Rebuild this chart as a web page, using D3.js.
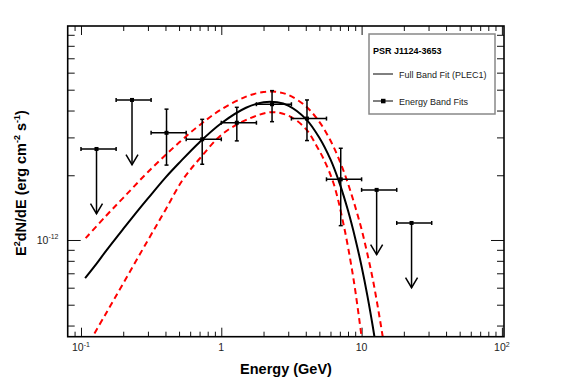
<!DOCTYPE html>
<html>
<head>
<meta charset="utf-8">
<script src="https://cdn.jsdelivr.net/npm/d3@7"></script>
<style>
  html, body { margin: 0; padding: 0; background: #fff; }
  svg { display: block; font-family: 'Liberation Sans', Arial, sans-serif; }
</style>
</head>
<body>
<script>
// band points (GeV, erg cm^-2 s^-1)
const energy = [0.129, 0.231, 0.407, 0.731, 1.29, 2.30, 4.08, 7.10, 12.8, 22.7];
const eLow = [0.1, 0.178, 0.316, 0.562, 1.0, 1.78, 3.16, 5.62, 10, 17.8];
const eHigh = [0.178, 0.316, 0.562, 1.0, 1.78, 3.16, 5.62, 10, 17.8, 31.6];
const flux = [2.65e-12, 4.48e-12, 3.15e-12, 2.94e-12, 3.51e-12, 4.28e-12, 3.67e-12, 1.915e-12, 1.71e-12, 1.20e-12];
const fluxHi = [null, null, 4.06e-12, 3.64e-12, 4.14e-12, 4.95e-12, 4.48e-12, 2.67e-12, null, null];
const fluxLo = [null, null, 2.23e-12, 2.25e-12, 2.89e-12, 3.55e-12, 2.90e-12, 1.166e-12, null, null];
const upperLimit = [true, true, false, false, false, false, false, false, true, true];

// full band fit (PLEC1)
const fitE = [0.107, 0.13, 0.15, 0.2, 0.25, 0.3, 0.4, 0.5, 0.7, 1, 1.5, 2, 2.5, 3, 4, 5, 6, 7, 8, 9, 10, 11, 12, 13];
const fitFlux = [6.64e-13, 7.8e-13, 8.85e-13, 1.125e-12, 1.35e-12, 1.56e-12, 1.95e-12, 2.28e-12, 2.85e-12, 3.49e-12, 4.12e-12, 4.37e-12, 4.37e-12, 4.22e-12, 3.66e-12, 2.99e-12, 2.37e-12, 1.82e-12, 1.37e-12, 1.02e-12, 7.53e-13, 5.50e-13, 3.98e-13, 2.86e-13];

// uncertainty band (red dashed)
const bandHiE = [0.108, 0.15, 0.2, 0.3, 0.5, 0.7, 1, 1.5, 2, 2.5, 3, 4, 5, 6, 7, 8, 9, 10, 11, 12, 13, 14, 15];
const bandHiFlux = [1.02e-12, 1.29e-12, 1.57e-12, 2.07e-12, 2.84e-12, 3.42e-12, 4.05e-12, 4.64e-12, 4.88e-12, 4.88e-12, 4.73e-12, 4.19e-12, 3.54e-12, 2.90e-12, 2.32e-12, 1.83e-12, 1.43e-12, 1.12e-12, 8.6e-13, 6.6e-13, 4.95e-13, 3.70e-13, 2.78e-13];
const bandLoE = [0.115, 0.15, 0.2, 0.3, 0.4, 0.531, 0.705, 1.03, 1.6, 2.3, 3.1, 4.06, 4.8, 5.33, 6.3, 7.4, 8.7, 10, 10.5];
const bandLoFlux = [3.35e-13, 4.53e-13, 6.28e-13, 9.98e-13, 1.38e-12, 1.905e-12, 2.40e-12, 3.13e-12, 3.68e-12, 3.93e-12, 3.75e-12, 3.25e-12, 2.72e-12, 2.40e-12, 1.84e-12, 1.20e-12, 6.76e-13, 3.55e-13, 2.82e-13];

// tick labels
const xTickLabels = [{v: 0.1, t: '10', s: '-1'}, {v: 1, t: '1', s: ''}, {v: 10, t: '10', s: ''}, {v: 100, t: '10', s: '2'}];
const yTickLabels = [{v: 1e-12, t: '10', s: '-12'}];
const legendTitle = 'PSR J1124-3653';
const legendItems = ['Full Band Fit (PLEC1)', 'Energy Band Fits'];

const w = 567;
const h = 384;
const pLeft = 67.7, pRight = 504, pTop = 26, pBottom = 336.7;
const arrowFactor = 0.5;

const xScale = d3.scaleLog().domain([0.0804, 103.5]).range([pLeft, pRight]);
const yScale = d3.scaleLog().domain([3.55e-13, 9.89e-12]).range([pBottom, pTop]);

const svg = d3.select('body').append('svg').attr('width', w).attr('height', h);

// tick positions
const xMinor = [], yMinor = [];
[0.01, 0.1, 1, 10].forEach(d => {
  for (let k = 2; k <= 9; k++) {
    const v = k * d;
    if (v >= 0.0804 && v <= 103.5) xMinor.push(v);
  }
});
[1e-13, 1e-12].forEach(d => {
  for (let k = 2; k <= 9; k++) {
    const v = k * d;
    if (v >= 3.55e-13 && v <= 9.89e-12) yMinor.push(v);
  }
});
const xMajor = [0.1, 1, 10, 100];
const yMajor = [1e-12];

function tickAxis(axis, translate) {
  const g = svg.append('g').attr('transform', translate).call(axis);
  g.select('.domain').remove();
  g.selectAll('.tick line').attr('stroke', '#111').attr('stroke-width', 1);
  return g;
}
tickAxis(d3.axisBottom(xScale).tickValues(xMinor).tickSize(-5).tickFormat(''), `translate(0,${pBottom})`);
tickAxis(d3.axisBottom(xScale).tickValues(xMajor).tickSize(-9).tickFormat(''), `translate(0,${pBottom})`);
tickAxis(d3.axisTop(xScale).tickValues(xMinor).tickSize(-5).tickFormat(''), `translate(0,${pTop})`);
tickAxis(d3.axisTop(xScale).tickValues(xMajor).tickSize(-9).tickFormat(''), `translate(0,${pTop})`);
tickAxis(d3.axisLeft(yScale).tickValues(yMinor).tickSize(-7).tickFormat(''), `translate(${pLeft},0)`);
tickAxis(d3.axisLeft(yScale).tickValues(yMajor).tickSize(-13).tickFormat(''), `translate(${pLeft},0)`);
tickAxis(d3.axisRight(yScale).tickValues(yMinor).tickSize(-7).tickFormat(''), `translate(${pRight},0)`);
tickAxis(d3.axisRight(yScale).tickValues(yMajor).tickSize(-13).tickFormat(''), `translate(${pRight},0)`);

// tick labels with superscripts
function supText(sel, t, s) {
  sel.append('tspan').text(t);
  if (s) sel.append('tspan').attr('font-size', 7).attr('dy', -4.5).text(s);
}
xTickLabels.forEach(d => {
  const txt = svg.append('text')
    .attr('x', xScale(d.v)).attr('y', 351)
    .attr('text-anchor', 'middle')
    .attr('font-size', 10.5).attr('fill', '#222');
  supText(txt, d.t, d.s);
});
yTickLabels.forEach(d => {
  const txt = svg.append('text')
    .attr('x', 58.5).attr('y', yScale(d.v) + 4)
    .attr('text-anchor', 'end')
    .attr('font-size', 10.5).attr('fill', '#222');
  supText(txt, d.t, d.s);
});

// axis titles
svg.append('text')
  .attr('x', 286).attr('y', 374)
  .attr('text-anchor', 'middle')
  .attr('font-size', 14.5).attr('font-weight', 'bold')
  .text('Energy (GeV)');

const ylab = svg.append('text')
  .attr('transform', 'translate(26,183) rotate(-90)')
  .attr('text-anchor', 'middle')
  .attr('font-size', 14.5).attr('font-weight', 'bold');
ylab.append('tspan').text('E');
ylab.append('tspan').attr('font-size', 9).attr('dy', -6).text('2');
ylab.append('tspan').attr('dy', 6).text('dN/dE (erg cm');
ylab.append('tspan').attr('font-size', 9).attr('dy', -6).text('-2');
ylab.append('tspan').attr('dy', 6).text(' s');
ylab.append('tspan').attr('font-size', 9).attr('dy', -6).text('-1');
ylab.append('tspan').attr('dy', 6).text(')');

// curves
svg.append('clipPath').attr('id', 'plot-clip')
  .append('rect').attr('x', pLeft).attr('y', pTop).attr('width', pRight - pLeft).attr('height', pBottom - pTop);

const line = d3.line()
  .x(d => xScale(d[0]))
  .y(d => yScale(d[1]))
  .curve(d3.curveCatmullRom.alpha(0.5));

const curves = svg.append('g').attr('clip-path', 'url(#plot-clip)');
curves.append('path')
  .datum(bandHiE.map((e, i) => [e, bandHiFlux[i]]))
  .attr('d', line).attr('fill', 'none')
  .attr('stroke', '#f00').attr('stroke-width', 2).attr('stroke-dasharray', '6,4');
curves.append('path')
  .datum(bandLoE.map((e, i) => [e, bandLoFlux[i]]))
  .attr('d', line).attr('fill', 'none')
  .attr('stroke', '#f00').attr('stroke-width', 2).attr('stroke-dasharray', '6,4');
curves.append('path')
  .datum(fitE.map((e, i) => [e, fitFlux[i]]))
  .attr('d', line).attr('fill', 'none')
  .attr('stroke', '#000').attr('stroke-width', 2);

// band points
const pts = svg.append('g').attr('stroke', '#000').attr('stroke-width', 1.5).attr('fill', 'none');
energy.forEach((e, i) => {
  const x = xScale(e);
  const y = yScale(flux[i]);
  const x0 = xScale(eLow[i]), x1 = xScale(eHigh[i]);
  pts.append('line').attr('x1', x0).attr('x2', x1).attr('y1', y).attr('y2', y);
  pts.append('line').attr('x1', x0).attr('x2', x0).attr('y1', y - 2).attr('y2', y + 2);
  pts.append('line').attr('x1', x1).attr('x2', x1).attr('y1', y - 2).attr('y2', y + 2);
  if (upperLimit[i]) {
    const yt = yScale(flux[i] * arrowFactor);
    pts.append('line').attr('x1', x).attr('x2', x).attr('y1', y).attr('y2', yt);
    pts.append('polyline').attr('points', `${x - 6},${yt - 10} ${x},${yt} ${x + 6},${yt - 10}`);
  } else {
    const yh = yScale(fluxHi[i]), yl = yScale(fluxLo[i]);
    pts.append('line').attr('x1', x).attr('x2', x).attr('y1', yh).attr('y2', yl);
    pts.append('line').attr('x1', x - 2).attr('x2', x + 2).attr('y1', yh).attr('y2', yh);
    pts.append('line').attr('x1', x - 2).attr('x2', x + 2).attr('y1', yl).attr('y2', yl);
  }
  svg.append('rect').attr('x', x - 2).attr('y', y - 2).attr('width', 4).attr('height', 4).attr('fill', '#000');
});

// frame
svg.append('rect')
  .attr('x', pLeft).attr('y', pTop).attr('width', pRight - pLeft).attr('height', pBottom - pTop)
  .attr('fill', 'none').attr('stroke', '#000').attr('stroke-width', 1.6);

// legend
const lg = svg.append('g');
lg.append('rect').attr('x', 369).attr('y', 34).attr('width', 126).attr('height', 80)
  .attr('fill', '#fff').attr('stroke', '#888').attr('stroke-width', 1.5);
lg.append('text').attr('x', 373).attr('y', 54).attr('font-size', 9).attr('font-weight', 'bold').text(legendTitle);
lg.append('line').attr('x1', 373).attr('x2', 393).attr('y1', 74).attr('y2', 74).attr('stroke', '#000').attr('stroke-width', 1);
lg.append('text').attr('x', 399).attr('y', 77.5).attr('font-size', 9).attr('fill', '#222').text(legendItems[0]);
lg.append('line').attr('x1', 373).attr('x2', 393).attr('y1', 101).attr('y2', 101).attr('stroke', '#000').attr('stroke-width', 1);
lg.append('rect').attr('x', 381).attr('y', 98.8).attr('width', 4.5).attr('height', 4.5).attr('fill', '#000');
lg.append('text').attr('x', 399).attr('y', 104.5).attr('font-size', 9).attr('fill', '#222').text(legendItems[1]);
</script>
</body>
</html>
